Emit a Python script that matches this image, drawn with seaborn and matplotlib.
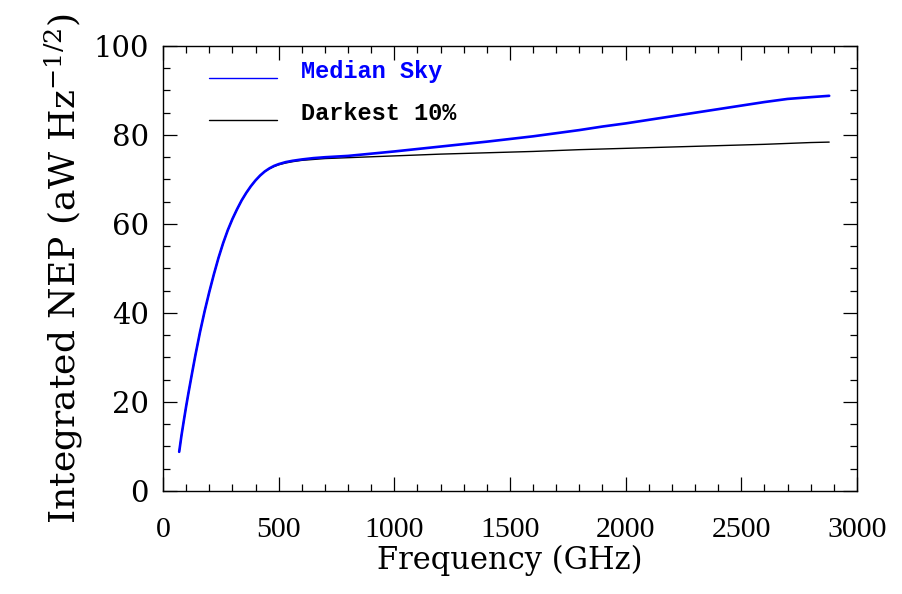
import matplotlib
matplotlib.use("Agg")
import matplotlib.pyplot as plt
from matplotlib.ticker import MultipleLocator
from matplotlib.legend_handler import HandlerLine2D
import seaborn as sns
import pandas as pd

# Integrated NEP vs. upper frequency limit
freq_ghz = [70, 80, 90, 100, 110, 125, 140, 160, 180, 200, 220, 240, 260, 280,
            300, 320, 340, 360, 380, 400, 420, 440, 460, 480, 500, 530, 560,
            600, 650, 700, 800, 900, 1000, 1200, 1400, 1600, 1800, 1900, 2000,
            2200, 2400, 2600, 2700, 2800, 2880]
median_sky = [8.8, 12.5, 15.8, 19.0, 22.0, 26.3, 30.5, 35.7, 40.4, 44.7, 48.7,
              52.4, 55.7, 58.6, 61.1, 63.3, 65.3, 67.0, 68.5, 69.8, 70.9, 71.8,
              72.5, 73.05, 73.45, 73.9, 74.2, 74.5, 74.8, 75.0, 75.3, 75.8, 76.3,
              77.4, 78.5, 79.7, 81.1, 81.9, 82.6, 84.2, 85.8, 87.4, 88.1, 88.5,
              88.8]
darkest_10 = [8.8, 12.5, 15.8, 19.0, 22.0, 26.3, 30.5, 35.7, 40.4, 44.7, 48.7,
              52.4, 55.7, 58.6, 61.1, 63.3, 65.3, 67.0, 68.5, 69.8, 70.9, 71.8,
              72.4, 72.9, 73.3, 73.7, 74.0, 74.3, 74.5, 74.7, 74.9, 75.1, 75.3,
              75.7, 76.0, 76.3, 76.7, 76.85, 77.0, 77.3, 77.6, 77.9, 78.1, 78.3,
              78.4]
series_names = ["Median Sky", "Darkest 10%"]

df = pd.DataFrame({
    "freq": freq_ghz * 2,
    "nep": median_sky + darkest_10,
    "series": [series_names[0]] * len(freq_ghz) + [series_names[1]] * len(freq_ghz),
})

sns.set_theme(style="ticks")
plt.rcParams["font.family"] = ["DejaVu Serif", "DejaVu Sans"]
plt.rcParams["mathtext.fontset"] = "dejavuserif"
for key in ("text.color", "axes.labelcolor", "xtick.color", "ytick.color",
            "axes.edgecolor"):
    plt.rcParams[key] = "black"


class LoweredLine(HandlerLine2D):
    """Legend sample drawn a little below the middle of its text row."""

    def create_artists(self, legend, orig_handle, xdescent, ydescent,
                       width, height, fontsize, trans):
        return super().create_artists(legend, orig_handle, xdescent,
                                      ydescent + height, width, height,
                                      fontsize, trans)


fig = plt.figure(figsize=(9.03, 5.94), dpi=100)
ax = fig.add_axes([0.1805, 0.1734, 0.7685, 0.7492])

# darkest curve first so the median curve sits on top
sns.lineplot(data=df[df.series == series_names[1]], x="freq", y="nep",
             color="black", linewidth=1.0, ax=ax, label=series_names[1],
             estimator=None, sort=False)
sns.lineplot(data=df[df.series == series_names[0]], x="freq", y="nep",
             color="blue", linewidth=1.9, ax=ax, label=series_names[0],
             estimator=None, sort=False)

ax.set_xlim(0, 3000)
ax.set_ylim(0, 100)
ax.xaxis.set_major_locator(MultipleLocator(500))
ax.xaxis.set_minor_locator(MultipleLocator(100))
ax.yaxis.set_major_locator(MultipleLocator(20))
ax.yaxis.set_minor_locator(MultipleLocator(5))

ax.tick_params(which="both", direction="in", top=True, right=True,
               width=0.9, color="black")
ax.tick_params(which="major", length=10)
ax.tick_params(which="minor", length=5)
ax.tick_params(axis="y", which="major", pad=10, labelsize=21,
               labelfontfamily="DejaVu Serif")
ax.tick_params(axis="x", which="major", pad=19, labelsize=21.5,
               labelfontfamily="Liberation Serif")
for sp in ax.spines.values():
    sp.set_linewidth(1.0)
    sp.set_color("black")

ax.set_xlabel("Frequency (GHz)", family="DejaVu Serif", fontsize=22,
              labelpad=1)
ax.set_ylabel(r"Integrated NEP (aW Hz$^{-1/2}$)", family="DejaVu Serif",
              fontsize=26, labelpad=6)

handles, labels = ax.get_legend_handles_labels()
order = [labels.index(n) for n in series_names]
leg = ax.legend([handles[i] for i in order], [labels[i] for i in order],
                loc="upper left", bbox_to_anchor=(0.066, 0.969),
                borderaxespad=0, borderpad=0, frameon=False,
                handlelength=2.9, handletextpad=1.0, labelspacing=0.83,
                prop={"family": "Liberation Mono", "weight": "bold",
                      "size": 17},
                labelcolor="linecolor",
                handler_map={h: LoweredLine() for h in handles})
for line in leg.get_lines():
    line.set_linewidth(1.0)

fig.savefig("out.png", dpi=100)
